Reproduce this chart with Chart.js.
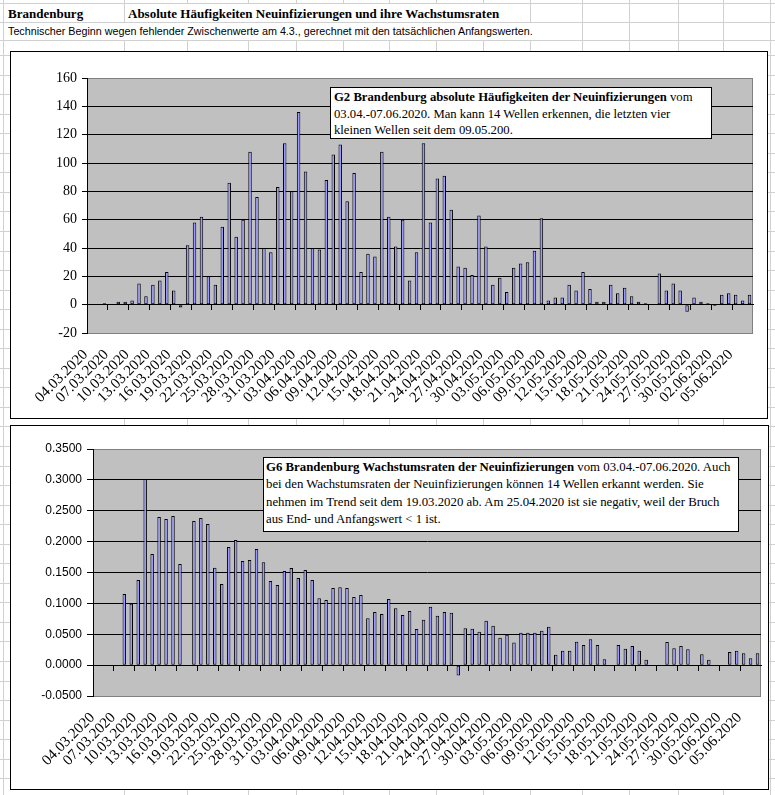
<!DOCTYPE html>
<html lang="de">
<head>
<meta charset="UTF-8">
<title>Brandenburg – Neuinfizierungen und Wachstumsraten</title>
<script src="https://cdn.jsdelivr.net/npm/chart.js"></script>
<style>
  html, body { margin: 0; padding: 0; background: #fff; }
  body { width: 775px; height: 795px; position: relative; overflow: hidden; }
  #sheet { position: absolute; left: 0; top: 0; }
  .cell { position: absolute; background: #fff; white-space: nowrap; color: #000; box-sizing: border-box; }
  .bold { font: bold 13px "Liberation Serif", serif; }
  .plain { font: 10.75px "Liberation Sans", Arial, sans-serif; }
  .box { position: absolute; box-sizing: border-box; border: 1px solid #000; background: #fff; }
  .box canvas { display: block; }
  .note { position: absolute; box-sizing: border-box; border: 1px solid #000; background: #fff;
          font-family: "Liberation Serif", serif; white-space: nowrap; color: #000; }
</style>
</head>
<body>
<canvas id="sheet" width="775" height="795"></canvas>

<div class="cell bold" style="left:4px;top:4px;width:120px;height:18px;line-height:20px;padding-left:4px">Brandenburg</div>
<div class="cell bold" style="left:125px;top:4px;width:405px;height:18px;line-height:20px;padding-left:3px">Absolute Häufigkeiten Neuinfizierungen und ihre Wachstumsraten</div>
<div class="cell plain" style="left:4px;top:23px;width:577px;height:17px;line-height:17px;padding-left:4px">Technischer Beginn wegen fehlender Zwischenwerte am 4.3., gerechnet mit den tatsächlichen Anfangswerten.</div>

<div class="box" style="left:10px;top:51px;width:758px;height:368px"><canvas id="g2" width="756" height="366"></canvas></div>
<div class="box" style="left:10px;top:425px;width:759px;height:365px"><canvas id="g6" width="757" height="363"></canvas></div>

<div class="note" style="left:330px;top:87px;width:382px;height:52px;font-size:12.7px;line-height:16.7px;padding:1px 3px">
<b>G2 Brandenburg absolute Häufigkeiten der Neuinfizierungen</b> vom<br>03.04.-07.06.2020. Man kann 14 Wellen erkennen, die letzten vier<br>kleinen Wellen seit dem 09.05.200.</div>

<div class="note" style="left:263px;top:457px;width:476px;height:75px;font-size:12.8px;line-height:17.3px;padding:1px 2px">
<b>G6 Brandenburg Wachstumsraten der Neuinfizierungen</b> vom 03.04.-07.06.2020. Auch<br>bei den Wachstumsraten der Neuinfizierungen können 14 Wellen erkannt werden. Sie<br>nehmen im Trend seit dem 19.03.2020 ab. Am 25.04.2020 ist sie negativ, weil der Bruch<br>aus End- und Anfangswert &lt; 1 ist.</div>

<script>
  // one category per day, 04.03.2020 - 07.06.2020
  const DATES = [
    "04.03.2020","05.03.2020","06.03.2020","07.03.2020","08.03.2020","09.03.2020","10.03.2020",
    "11.03.2020","12.03.2020","13.03.2020","14.03.2020","15.03.2020","16.03.2020","17.03.2020",
    "18.03.2020","19.03.2020","20.03.2020","21.03.2020","22.03.2020","23.03.2020","24.03.2020",
    "25.03.2020","26.03.2020","27.03.2020","28.03.2020","29.03.2020","30.03.2020","31.03.2020",
    "01.04.2020","02.04.2020","03.04.2020","04.04.2020","05.04.2020","06.04.2020","07.04.2020",
    "08.04.2020","09.04.2020","10.04.2020","11.04.2020","12.04.2020","13.04.2020","14.04.2020",
    "15.04.2020","16.04.2020","17.04.2020","18.04.2020","19.04.2020","20.04.2020","21.04.2020",
    "22.04.2020","23.04.2020","24.04.2020","25.04.2020","26.04.2020","27.04.2020","28.04.2020",
    "29.04.2020","30.04.2020","01.05.2020","02.05.2020","03.05.2020","04.05.2020","05.05.2020",
    "06.05.2020","07.05.2020","08.05.2020","09.05.2020","10.05.2020","11.05.2020","12.05.2020",
    "13.05.2020","14.05.2020","15.05.2020","16.05.2020","17.05.2020","18.05.2020","19.05.2020",
    "20.05.2020","21.05.2020","22.05.2020","23.05.2020","24.05.2020","25.05.2020","26.05.2020",
    "27.05.2020","28.05.2020","29.05.2020","30.05.2020","31.05.2020","01.06.2020","02.06.2020",
    "03.06.2020","04.06.2020","05.06.2020","06.06.2020","07.06.2020"
  ];

  // G2: absolute new infections per day
  const NEW_CASES = [
    0, 0, 1, 0, 2, 2, 3, 15, 6, 14,
    17, 23, 10, -2, 42, 58, 62, 20, 14, 55,
    86, 48, 60, 108, 76, 40, 37, 83, 114, 80,
    136, 94, 40, 39, 88, 106, 113, 73, 93, 23,
    36, 34, 108, 62, 41, 60, 17, 37, 114, 58,
    89, 91, 67, 27, 26, 21, 63, 41, 14, 19,
    9, 26, 29, 30, 38, 61, 3, 5, 5, 14,
    10, 23, 11, 2, 2, 14, 8, 12, 6, 2,
    1, 0, 22, 10, 15, 10, -5, 5, 2, 1,
    -1, 7, 8, 7, 3, 7
  ];

  // G6: growth rates
  const GROWTH = [
    0, 0, 0, 0, 0.1150, 0.0994, 0.1377, 0.3013, 0.1798, 0.2397,
    0.2365, 0.2414, 0.1636, 0, 0.2333, 0.2381, 0.2284, 0.1577, 0.1312, 0.1911,
    0.2025, 0.1685, 0.1701, 0.1879, 0.1668, 0.1361, 0.1296, 0.1523, 0.1571, 0.1409,
    0.1539, 0.1377, 0.1085, 0.1053, 0.1247, 0.1263, 0.1247, 0.1102, 0.1134, 0.0761,
    0.0859, 0.0826, 0.1069, 0.0923, 0.0810, 0.0875, 0.0583, 0.0734, 0.0945, 0.0799,
    0.0859, 0.0848, -0.0167, 0.0599, 0.0589, 0.0540, 0.0718, 0.0637, 0.0443, 0.0491,
    0.0367, 0.0524, 0.0524, 0.0524, 0.0556, 0.0621, 0.0167, 0.0232, 0.0232, 0.0378,
    0.0324, 0.0421, 0.0324, 0.0097, 0, 0.0324, 0.0265, 0.0308, 0.0232, 0.0086,
    0, 0, 0.0373, 0.0275, 0.0308, 0.0259, 0, 0.0178, 0.0086, 0,
    0, 0.0211, 0.0232, 0.0194, 0.0113, 0.0194
  ];

  const CASES_TICKS = [-20, 0, 20, 40, 60, 80, 100, 120, 140, 160];
  const GROWTH_TICKS = [-0.05, 0, 0.05, 0.10, 0.15, 0.20, 0.25, 0.30, 0.35];

  // spreadsheet grid behind the charts
  const sheet = document.getElementById('sheet').getContext('2d');
  const colLines = [3, 124, 187, 248, 296, 343, 389, 436, 483, 530, 582, 629, 678, 723, 770];
  const rowLines = [3, 22, 40];
  for (let y = 55; y < 795; y += 19.55) rowLines.push(Math.round(y));
  sheet.strokeStyle = '#d0d0d0';
  sheet.lineWidth = 1;
  sheet.beginPath();
  colLines.forEach(x => { sheet.moveTo(x + 0.5, 0); sheet.lineTo(x + 0.5, 795); });
  rowLines.forEach(y => { sheet.moveTo(0, y + 0.5); sheet.lineTo(775, y + 0.5); });
  sheet.stroke();

  // grey plot area with its frame, like Excel
  const plotFrame = {
    id: 'plotFrame',
    beforeDraw(chart) {
      const { ctx, chartArea: a } = chart;
      ctx.save();
      ctx.fillStyle = '#c0c0c0';
      ctx.fillRect(a.left, a.top, a.right - a.left, a.bottom - a.top);
      ctx.strokeStyle = '#808080';
      ctx.lineWidth = 1;
      ctx.strokeRect(Math.round(a.left) + 0.5, Math.round(a.top) + 0.5,
                     Math.round(a.right - a.left) - 1, Math.round(a.bottom - a.top));
      ctx.restore();
    }
  };

  function excelBars(id, values, yTicks, yLabel, geo) {
    const lo = yTicks[0], hi = yTicks[yTicks.length - 1];
    return new Chart(document.getElementById(id), {
      type: 'bar',
      data: {
        labels: DATES,
        datasets: [{
          data: values,
          backgroundColor: '#9999ff',
          borderColor: '#000',
          borderWidth: 1,
          borderSkipped: false,
          barPercentage: 0.5,
          categoryPercentage: 1
        }]
      },
      options: {
        responsive: false,
        animation: false,
        layout: { padding: { top: geo.top, right: geo.right, left: 0, bottom: 0 } },
        plugins: { legend: { display: false }, tooltip: { enabled: false } },
        scales: {
          x: {
            type: 'category',
            position: 'bottom',
            offset: true,
            grid: { display: false },
            border: { display: false },
            ticks: {
              autoSkip: false,
              minRotation: 45,
              maxRotation: 45,
              padding: geo.labelPad,
              labelOffset: geo.labelShift,
              color: '#000',
              font: { family: 'Liberation Serif', size: 15 },
              callback: (v, i) => i % 3 === 0 ? DATES[i] : ''
            },
            afterFit: s => { s.height = geo.xh; s.paddingLeft = 0; s.paddingRight = 0; }
          },
          // category axis crossing at zero, only the line and tick marks
          x0: {
            type: 'category',
            position: { y: 0 },
            offset: true,
            grid: {
              offset: true,
              drawOnChartArea: false,
              drawTicks: true,
              tickLength: 5,
              tickColor: c => c.index % 3 === 0 ? '#000' : 'rgba(0,0,0,0)'
            },
            border: { display: true, color: '#000', width: 1 },
            ticks: { display: false, autoSkip: false }
          },
          y: {
            min: lo,
            max: hi,
            afterBuildTicks: s => { s.ticks = yTicks.map(v => ({ value: v })); },
            afterFit: s => { s.width = geo.yw; },
            grid: {
              color: c => (c.tick && (c.tick.value === lo || c.tick.value === hi)) ? 'rgba(0,0,0,0)' : '#000',
              tickColor: '#000',
              tickLength: geo.tick,
              drawTicks: true
            },
            border: { display: true, color: '#000' },
            ticks: { padding: geo.yPad, color: '#000', font: geo.yFont, callback: yLabel }
          }
        }
      },
      plugins: [plotFrame]
    });
  }

  excelBars('g2', NEW_CASES, CASES_TICKS, v => String(v), {
    top: 26, right: 14, xh: 85, yw: 76, tick: 5, yPad: 5,
    yFont: { family: 'Liberation Serif', size: 14 }, labelPad: 5, labelShift: -5
  });

  excelBars('g6', GROWTH, GROWTH_TICKS, v => v.toFixed(4), {
    top: 23, right: 7, xh: 93, yw: 82, tick: 6, yPad: 5,
    yFont: { family: 'Liberation Sans', size: 12 }, labelPad: 5, labelShift: -4
  });
</script>
</body>
</html>
